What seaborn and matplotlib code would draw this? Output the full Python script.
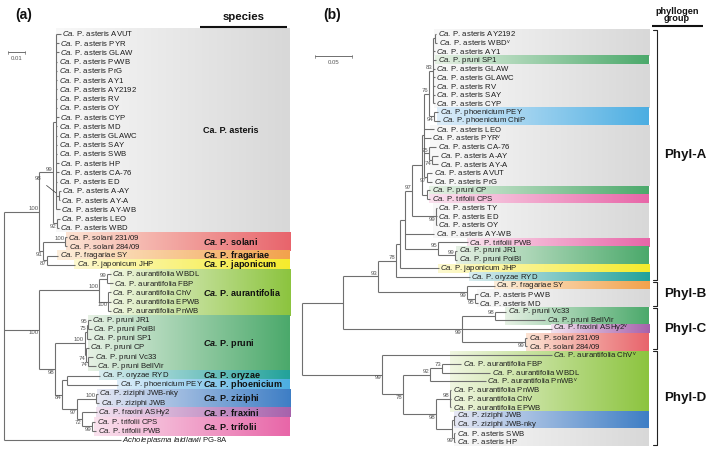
import numpy as np
import matplotlib
matplotlib.use("Agg")
import matplotlib.pyplot as plt
from matplotlib.collections import LineCollection
from matplotlib.colors import to_rgb
import seaborn as sns

sns.set_theme(style="white")
plt.rcParams["font.family"] = ["Liberation Sans", "DejaVu Sans"]
plt.rcParams["mathtext.fontset"] = "custom"
plt.rcParams["mathtext.rm"] = "Liberation Sans"
plt.rcParams["mathtext.it"] = "Liberation Sans:italic"
plt.rcParams["mathtext.bf"] = "Liberation Sans:bold"
plt.rcParams["mathtext.cal"] = "Liberation Sans:italic:bold"

# ---------------- panel (a): species tree, depth in 0.001 subs/site ----------------
names_a = ["asteris AVUT", "asteris PYR", "asteris GLAW", "asteris PvWB", "asteris PrG",
           "asteris AY1", "asteris AY2192", "asteris RV", "asteris OY", "asteris CYP",
           "asteris MD", "asteris GLAWC", "asteris SAY", "asteris SWB", "asteris HP",
           "asteris CA-76", "asteris ED", "asteris A-AY", "asteris AY-A", "asteris AY-WB",
           "asteris LEO", "asteris WBD", "solani 231/09", "solani 284/09", "fragariae SY",
           "japonicum JHP", "aurantifolia WBDL", "aurantifolia FBP", "aurantifolia ChV",
           "aurantifolia EPWB", "aurantifolia PnWB", "pruni JR1", "pruni PoiBI", "pruni SP1",
           "pruni CP", "pruni Vc33", "pruni BellVir", "oryzae RYD", "phoenicium PEY",
           "ziziphi JWB-nky", "ziziphi JWB", "fraxini ASHy2", "trifolii CPS", "trifolii PWB",
           "Acholeplasma laidlawii PG-8A"]
tips_a = [33.5, 32.1, 32.1, 31.2, 31.2, 31.2, 31.2, 31.2, 31.2, 32.1,
          31.2, 31.2, 31.2, 31.2, 32.1, 32.1, 31.2, 33.5, 32.9, 32.9,
          32.9, 32.1, 36.8, 37.1, 31.8, 41.8, 62.9, 64.1, 62.9, 62.9,
          62.9, 50.9, 51.5, 51.2, 50.0, 52.6, 54.1, 56.5, 67.1, 55.0,
          55.9, 54.7, 53.8, 54.4, 68.8]

# internal node: (depth, support, label place, children); leaf: index
aay = (32.4, "98", "l", [17, 18])
comb = (30.6, None, None, list(range(17)) + [aay, 19])
a99 = (28.8, "99", "a", [comb, (31.2, "92", "b", [20, 21])])
s91 = (22.9, "91", "b", [(35.9, "100", "a", [22, 23]), (25.3, "87", "b", [24, 25])])
upper_a = (20.6, "100", "a", [a99, s91])
aur_a = (55.9, "100", "a", [(60.6, "99", "a", [26, 27]), (61.2, "100", "b", [28, 29, 30])])
pru_a = (47.6, "100", "a", [(48.8, "75", "a", [(49.7, "95", "a", [31, 32]), 33]),
                            (48.5, "74", "b", [34, (49.4, "74", "b", [35, 36])])])
n97_a = (42.9, "97", "b", [(54.4, "100", "a", [39, 40]),
                           (45.9, "72", "b", [41, (51.8, "99", "b", [42, 43])])])
n84_a = (34.1, "84", "b", [(37.1, None, None, [37, 38]), n97_a])
lower_a = (20.6, "100", "b", [aur_a, (30.0, "98", "b", [pru_a, n84_a])])
tree_a = (0.0, None, None, [upper_a, lower_a, 44])

# ---------------- panel (b): phyllogen tree, depth in 0.001 subs/site ----------------
names_b = ["asteris AY2192", "asteris WBD^v", "asteris AY1", "pruni SP1", "asteris GLAW",
           "asteris GLAWC", "asteris RV", "asteris SAY", "asteris CYP", "phoenicium PEY",
           "phoenicium ChiP", "asteris LEO", "asteris PYR^v", "asteris CA-76", "asteris A-AY",
           "asteris AY-A", "asteris AVUT", "asteris PrG", "pruni CP", "trifolii CPS",
           "asteris TY", "asteris ED", "asteris OY", "asteris AY-WB", "trifolii PWB",
           "pruni JR1", "pruni PoiBI", "japonicum JHP", "oryzae RYD", "fragariae SY",
           "asteris PvWB", "asteris MD", "pruni Vc33", "pruni BellVir", "fraxini ASHy2^v",
           "solani 231/09", "solani 284/09", "aurantifolia ChV^v", "aurantifolia FBP",
           "aurantifolia WBDL", "aurantifolia PnWB^v", "aurantifolia PnWB", "aurantifolia ChV",
           "aurantifolia EPWB", "ziziphi JWB", "ziziphi JWB-nky", "asteris SWB", "asteris HP"]
tips_b = [181.1, 183.1, 179.7, 181.1, 179.7, 179.7, 179.7, 179.7, 179.7, 183.8,
          186.5, 178.4, 174.3, 181.1, 183.8, 183.8, 175.7, 175.7, 173.0, 173.6,
          181.8, 181.8, 181.8, 178.4, 224.3, 209.5, 209.5, 185.1, 227.0, 260.8,
          237.8, 237.8, 275.7, 328.4, 337.8, 304.1, 304.1, 337.8, 214.9, 254.1,
          248.6, 201.4, 201.4, 201.4, 208.1, 206.8, 206.8, 206.8]

n76_b = (171.6, "76", "a", [(177.0, "83", "a", [(179.1, None, None, [0, 1]), 2, 3, 4, 5, 6, 7, 8]),
                            (178.4, "94", "b", [9, 10])])
ast_b = (164.9, None, None, [n76_b, 11, 12,
                             (171.6, "75", "a", [13, (175.7, "74", "b", [14, 15])]),
                             (168.9, "97", "b", [16, 17])])
n97_b = (148.6, "97", "a", [(162.2, None, None, [ast_b, (168.9, None, None, [18, 19])]),
                            (181.1, "99", "b", [20, 21, 22])])
n407_b = (139.2, None, None, [n97_b, 23, (183.8, "95", "a", [24, (206.8, "99", "a", [25, 26])])])
n93_b = (102.7, "93", "a", [(127.0, "78", "a", [(132.4, None, None, [n407_b, 27]), 28]),
                            (223.0, "99", "b", [29, (233.8, "95", "b", [30, 31])])])
phylc_b = (216.2, "99", "b", [(260.8, "98", "a", [32, 33]), 34, (301.4, "99", "b", [35, 36])])
n78_b = (136.5, "78", "b", [(173.0, "92", "a", [(189.2, "73", "a", [38, 39]), 40]),
                            (181.1, "98", "b", [(200.0, "98", "a", [41, 42, 43]),
                                                (202.7, None, None, [(205.4, None, None, [44, 45]),
                                                                     (205.4, "99", "b", [46, 47])])])])
tree_b = (0.0, None, None, [(55.4, None, None, [n93_b, phylc_b]),
                            (108.1, "99", "b", [37, n78_b])])

phyl_groups = ["Phyl-A", "Phyl-B", "Phyl-C", "Phyl-D"]
phyl_first = [0, 29, 32, 37]
phyl_last = [28, 31, 36, 47]

# band colours: (light left end, saturated right end)
band_colors = {
    "asteris": ("#f8f8f8", "#d8d8d8"),
    "solani": ("#fce3d2", "#e8646c"),
    "fragariae": ("#fdeedb", "#f2a24c"),
    "japonicum": ("#fdf9d0", "#f5eb2c"),
    "aurantifolia": ("#f0f6e1", "#8cc43f"),
    "pruni": ("#e6f1e4", "#4ba96b"),
    "oryzae": ("#d9ecef", "#22a29a"),
    "phoenicium": ("#ddedf9", "#4caee2"),
    "ziziphi": ("#e6e8f4", "#3e7ec5"),
    "fraxini": ("#f2e2f0", "#a762ac"),
    "trifolii": ("#fae2ee", "#e866a8"),
}

LINE = "#6f6f6f"
TXT = "#1e1e1e"
SUP = "#555555"


def leaf_text(name):
    if name.startswith("Acholeplasma"):
        return r"$\mathit{Acholeplasma\ laidlawii}$ PG-8A"
    return r"$\mathit{Ca.}\,$P. " + name.replace("^v", r"$^{\mathrm{v}}$")


def draw_tree(ax, root, tips, rows, x0, k):
    segs, sups = [], []

    def walk(node):
        if isinstance(node, int):
            return x0 + k * tips[node], rows[node]
        depth, sup, where, kids = node
        x = x0 + k * depth
        pts = [walk(c) for c in kids]
        ys = [p[1] for p in pts]
        for cx, cy in pts:
            segs.append([(x, cy), (cx, cy)])
        segs.append([(x, ys[0]), (x, ys[-1])])
        y = (ys[0] + ys[-1]) / 2
        if sup:
            sups.append((x, y, sup, where))
        return x, y

    walk(root)
    ax.add_collection(LineCollection(segs, colors=LINE, linewidths=0.8, zorder=3))
    for x, y, s, w in sups:
        if w == "a":
            ax.text(x - 0.8, y - 0.8, s, ha="right", va="bottom", fontsize=4.3, color=SUP, zorder=4)
        elif w == "b":
            ax.text(x - 0.8, y + 0.8, s, ha="right", va="top", fontsize=4.3, color=SUP, zorder=4)
        else:
            ax.annotate(s, xy=(x - 1, y - 1), xytext=(x - 18, y - 17), ha="right", va="center",
                        fontsize=4.3, color=SUP, zorder=4,
                        arrowprops=dict(arrowstyle="-", lw=0.5, color="#333333"))


def gradient(ax, x0, x1, y0, y1, c0, c1):
    t = np.linspace(0, 1, 256)[:, None]
    img = (1 - t) * np.array(to_rgb(c0)) + t * np.array(to_rgb(c1))
    ax.imshow(img[None, :, :], extent=(x0, x1, y1, y0), aspect="auto",
              interpolation="bilinear", zorder=1)


def groups(names):
    sp = [n.split()[0] for n in names]
    start = 0
    for i in range(1, len(sp) + 1):
        if i == len(sp) or sp[i] != sp[start]:
            yield sp[start], start, i - 1
            start = i


fig = plt.figure(figsize=(7.09, 4.51), dpi=100)
ax = fig.add_axes([0, 0, 1, 1])
ax.set_xlim(0, 709)
ax.set_ylim(451, 0)
ax.set_autoscale_on(False)
ax.axis("off")

# ---- panel (a) ----
xa, ka, step_a = 4.0, 1.7, 9.23
rows_a = 34 + step_a * np.arange(len(names_a))
for sp, i0, i1 in groups(names_a):
    if sp not in band_colors:
        continue
    left = xa + ka * min(tips_a[i0:i1 + 1]) - 1
    top, bot = rows_a[i0] - step_a / 2, rows_a[i1] + step_a / 2
    gradient(ax, left, 290, top, bot, *band_colors[sp])
    if sp == "asteris":
        lab = "Ca. P. asteris"
    else:
        lab = r"$\mathcal{Ca.}\,$P. " + sp
    ax.text(203, (top + bot) / 2, lab, ha="left", va="center", fontsize=6.5,
            fontweight="bold", color="#111111", zorder=5)

draw_tree(ax, tree_a, tips_a, rows_a, xa, ka)
for i, n in enumerate(names_a):
    ax.text(xa + ka * tips_a[i] + 1.5, rows_a[i], leaf_text(n), ha="left", va="center",
            fontsize=5.6, color=TXT, zorder=5)

ax.text(15, 15, "(a)", fontsize=10, fontweight="bold", ha="left", va="center", color="#111111")
ax.text(244, 17, "species", fontsize=8.2, fontweight="bold", ha="center", va="center", color="#111111")
ax.plot([200, 287], [27, 27], color="#111111", lw=1.5, solid_capstyle="butt")
bar_a = ka * 10
ax.plot([8, 8 + bar_a], [52, 52], color=LINE, lw=0.7)
ax.plot([8, 8], [50.5, 53.5], color=LINE, lw=0.5)
ax.plot([8 + bar_a, 8 + bar_a], [50.5, 53.5], color=LINE, lw=0.5)
ax.text(8 + bar_a / 2, 56, "0.01", fontsize=4.3, color=SUP, ha="center", va="top")

# ---- panel (b) ----
xb, kb, step_b = 302.0, 0.74, 8.68
rows_b = 34 + step_b * np.arange(len(names_b))
for sp, i0, i1 in groups(names_b):
    left = xb + kb * min(tips_b[i0:i1 + 1]) - 1
    top, bot = rows_b[i0] - step_b / 2, rows_b[i1] + step_b / 2
    gradient(ax, left, 649, top, bot, *band_colors[sp])

draw_tree(ax, tree_b, tips_b, rows_b, xb, kb)
for i, n in enumerate(names_b):
    ax.text(xb + kb * tips_b[i] + 1.5, rows_b[i], leaf_text(n), ha="left", va="center",
            fontsize=5.6, color=TXT, zorder=5)

ax.text(323, 15, "(b)", fontsize=10, fontweight="bold", ha="left", va="center", color="#111111")
ax.text(677, 15, "phyllogen\ngroup", fontsize=6.6, fontweight="bold", ha="center", va="center",
        linespacing=0.85, color="#111111")
ax.plot([652, 703], [26, 26], color="#111111", lw=1.5, solid_capstyle="butt")
bar_b = kb * 50
ax.plot([315, 315 + bar_b], [56, 56], color=LINE, lw=0.7)
ax.plot([315, 315], [54.5, 57.5], color=LINE, lw=0.5)
ax.plot([315 + bar_b, 315 + bar_b], [54.5, 57.5], color=LINE, lw=0.5)
ax.text(315 + bar_b / 2, 60, "0.05", fontsize=4.3, color=SUP, ha="center", va="top")

for g, f, l in zip(phyl_groups, phyl_first, phyl_last):
    top, bot = rows_b[f] - 4, rows_b[l] + 3
    ax.plot([653, 657, 657, 653], [top, top, bot, bot], color="#222222", lw=0.8)
    ax.text(664, (top + bot) / 2, g, fontsize=9.6, fontweight="bold", ha="left", va="center",
            color="#111111")

fig.savefig("out.png", dpi=100)
